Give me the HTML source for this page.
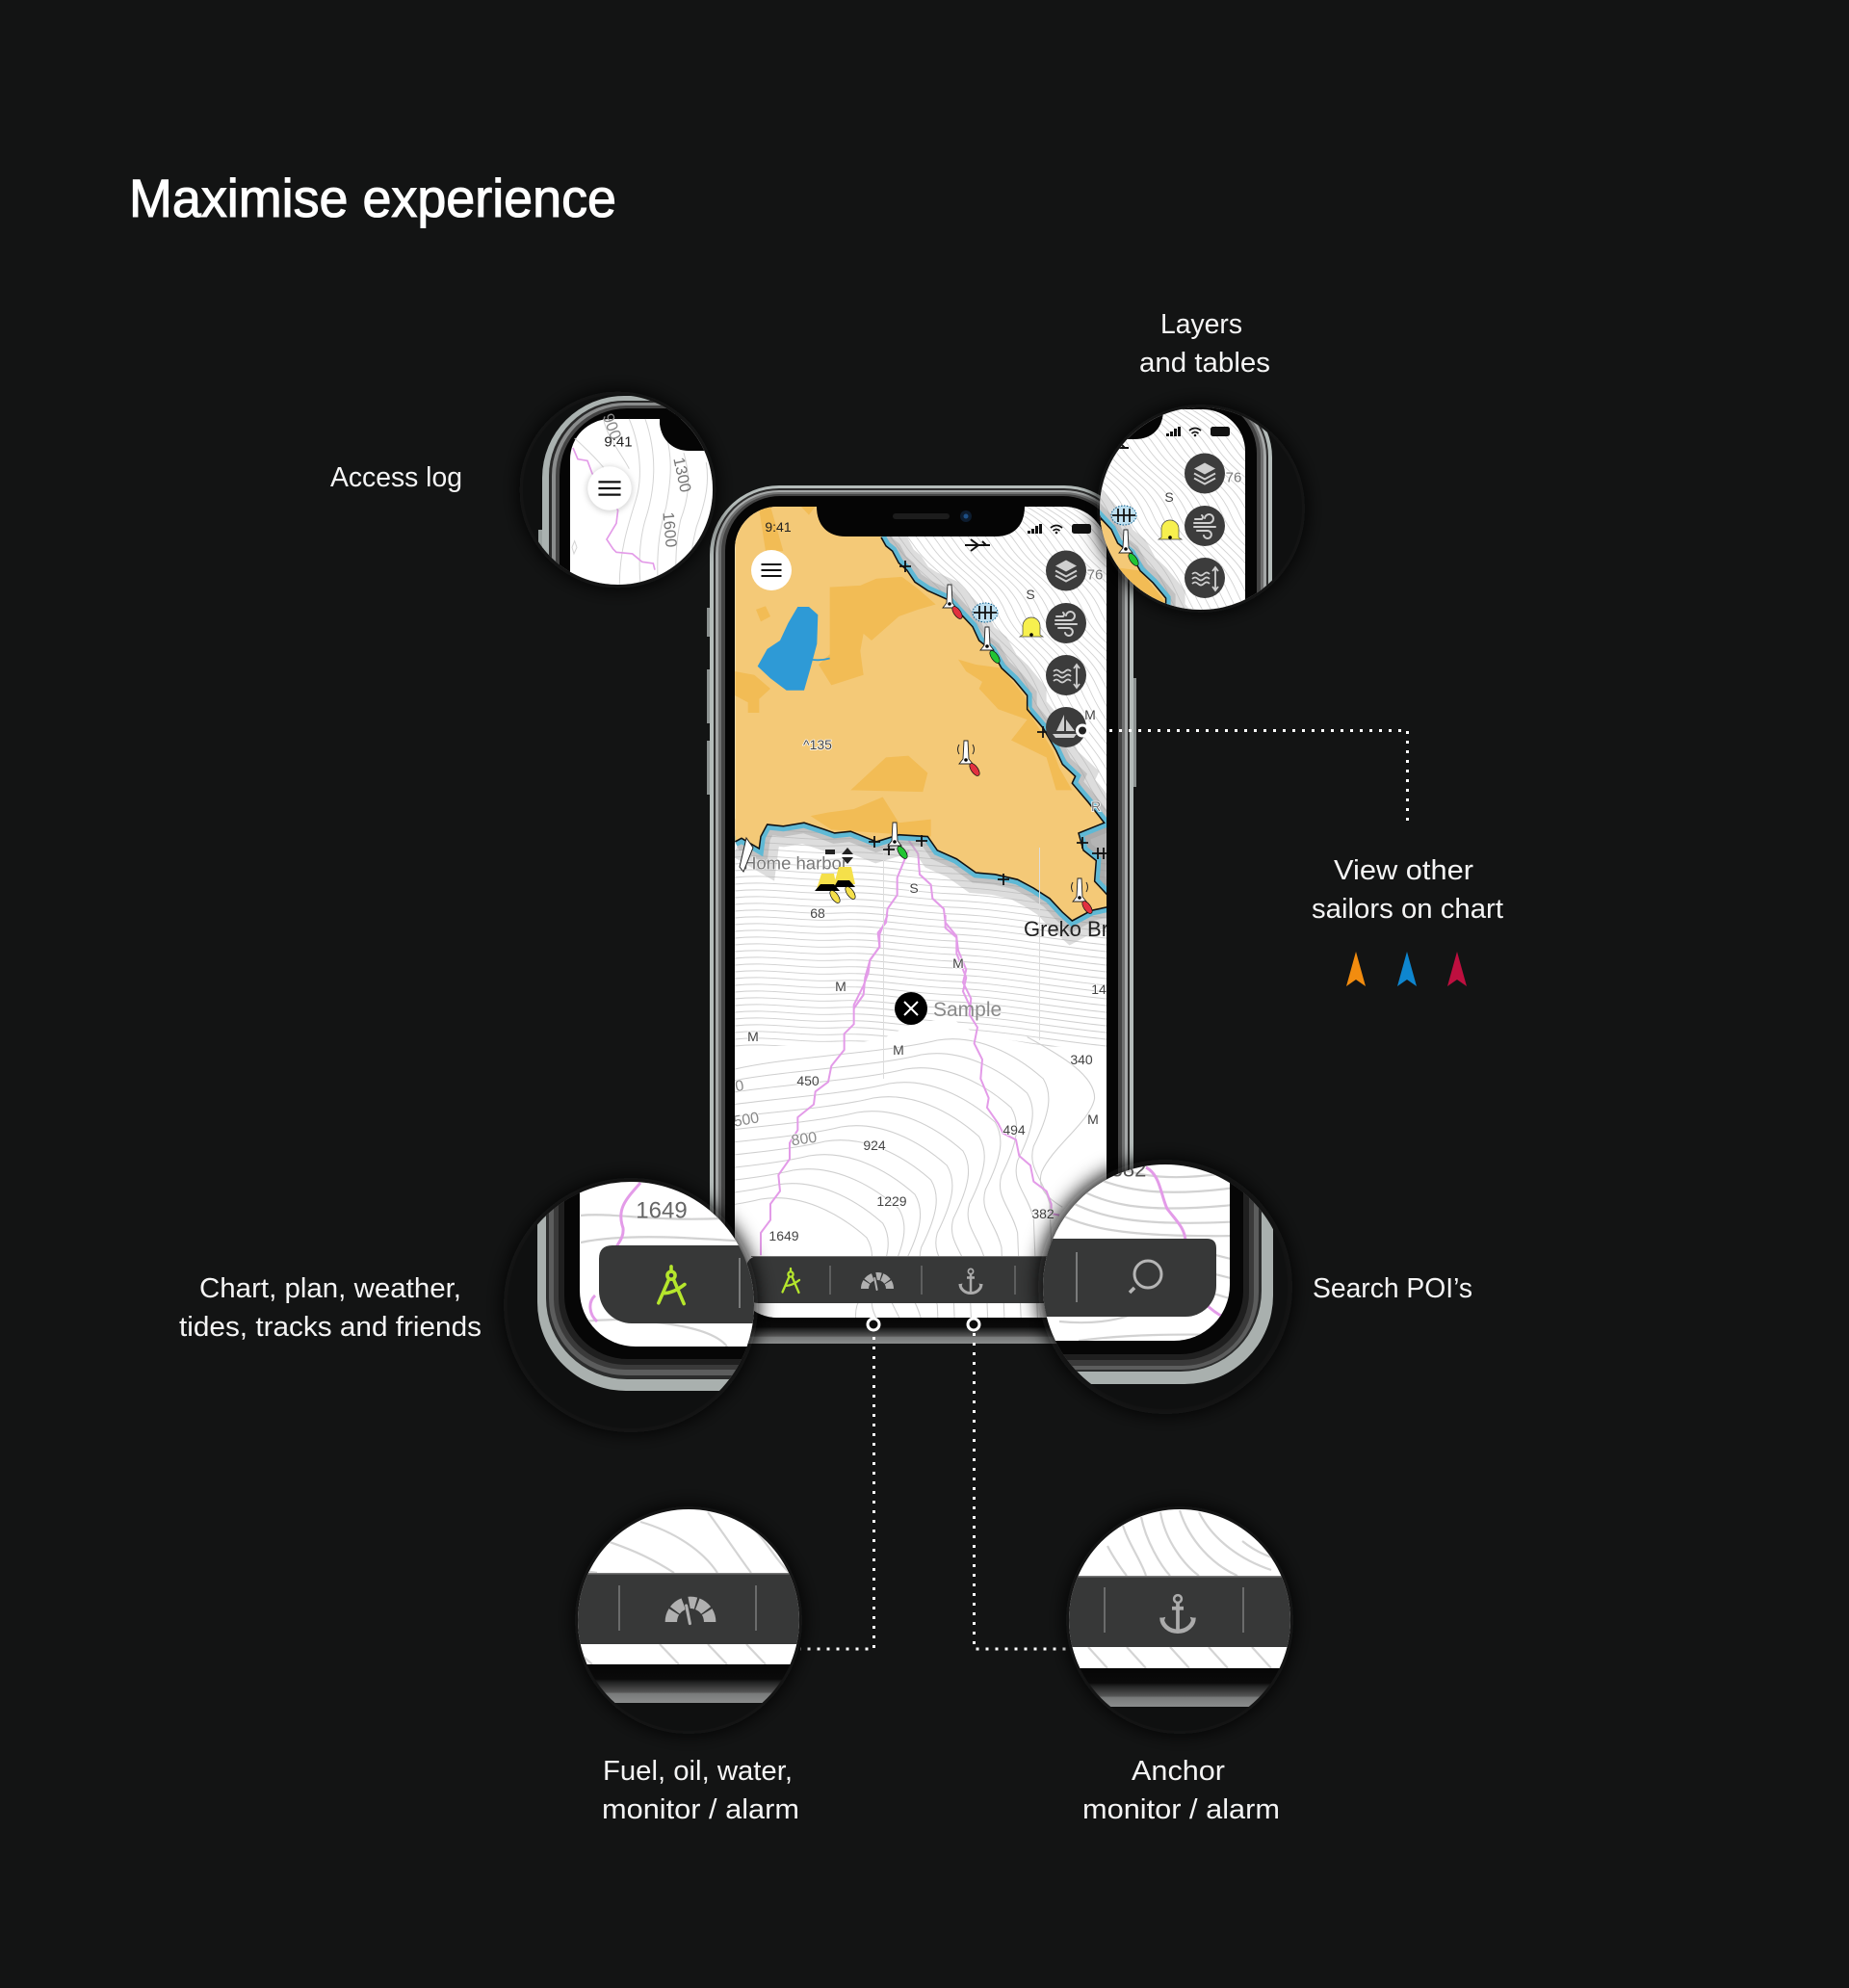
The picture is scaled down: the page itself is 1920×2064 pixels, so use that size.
<!DOCTYPE html>
<html><head><meta charset="utf-8"><title>Maximise experience</title>
<style>html,body{margin:0;padding:0;background:#131414}svg{display:block}
text{font-family:"Liberation Sans",sans-serif}
.l{font-size:29px;fill:#f5f5f5}
.m{font-size:14px;fill:#444;text-anchor:middle;dominant-baseline:central;paint-order:stroke;stroke:#fff;stroke-width:1.500px}
</style></head><body>
<svg xmlns="http://www.w3.org/2000/svg" width="1920" height="2064" viewBox="0 0 1920 2064">
<defs>
<filter id="bl" x="-30%" y="-30%" width="160%" height="160%"><feGaussianBlur stdDeviation="10"/></filter>
<filter id="sh" x="-50%" y="-50%" width="200%" height="200%"><feGaussianBlur stdDeviation="3"/></filter>
<clipPath id="scr"><rect x="763" y="526" width="386" height="842" rx="44"/></clipPath>
<clipPath id="s3"><rect x="602" y="900" width="700" height="498" rx="58"/></clipPath>
<clipPath id="s4"><rect x="577" y="900" width="700" height="492" rx="58"/></clipPath>
<clipPath id="c1"><circle cx="641.5" cy="508.5" r="98.5"/></clipPath>
<clipPath id="c2"><circle cx="1247" cy="528" r="105"/></clipPath>
<clipPath id="c3"><circle cx="655" cy="1355" r="128"/></clipPath>
<clipPath id="c4"><circle cx="1210" cy="1336" r="127"/></clipPath>
<clipPath id="c5"><circle cx="715" cy="1682" r="115"/></clipPath>
<clipPath id="c6"><circle cx="1225" cy="1682" r="115"/></clipPath>
<linearGradient id="btm" x1="0" y1="0" x2="0" y2="1"><stop offset="0" stop-color="#060606"/><stop offset=".38" stop-color="#0a0a0a"/><stop offset=".45" stop-color="#1d1e1e"/><stop offset=".72" stop-color="#555"/><stop offset=".76" stop-color="#787a7a"/><stop offset="1" stop-color="#8a8c8c"/></linearGradient>
<polyline id="coast" fill="none" points="585,190 600,215 620,230 640,265 665,285 690,320 730,345 790,370 830,410 870,450 890,490 930,520 960,570 1000,605 1040,650 1040,690 1090,745 1130,810 1150,850 1190,885 1180,905 1230,960 1280,1020 1200,1050 1215,1100 1255,1130 1250,1190 1290,1230 1290,1265 1240,1275 1180,1305 1150,1280 1110,1240 1060,1210 1010,1185 940,1170 880,1165 820,1125 760,1100 730,1060 640,1055 570,1075 490,1045 440,1050 410,1040 345,1020 280,1030 230,1025 210,1060 205,1095 150,1065 130,1075"/>
<path id="ne" fill="none" stroke="#d2d2d2" stroke-width=".9" d="M860 510 C890 530 910 535 930 565 S975 600 990 635 S1030 670 1050 715 S1090 770 1110 810 S1150 860 1190 900"/>
<g id="ne5"><use href="#ne"/><use href="#ne" x="9"/><use href="#ne" x="18"/><use href="#ne" x="27"/><use href="#ne" x="36"/></g>
<path id="h" fill="none" stroke="#cfcfcf" stroke-width=".9" d="M763 862 C800 858 830 866 870 864 S940 870 990 872 S1090 884 1149 890"/>
<g id="h5"><use href="#h"/><use href="#h" y="7"/><use href="#h" y="14"/><use href="#h" y="21"/><use href="#h" y="28"/></g>
<path id="lw" fill="none" stroke="#cfcfcf" stroke-width="3.200" d="M-900 660 L130 480 C300 440 600 430 760 390 C880 370 1000 430 1090 510 C1120 560 1110 620 1060 720 C1040 790 1090 820 1110 900 L1130 1400"/>
<g id="comp" fill="none" stroke="#B5E62C" stroke-width="2.300" stroke-linecap="round"><circle cx="0" cy="-7" r="2.600"/><path d="M0 -13V-10M-1.500 -4.500L-8.500 11.500M1.500 -4.500L8.500 12M-5.500 5C-1 5 4 3 9 -1"/></g>
<g id="gauge"><path d="M-13 0A13 13 0 0 1 13 0" fill="none" stroke="#b0b0b0" stroke-width="8" stroke-dasharray="7.200 1.200"/><path d="M0 1L-3.500 -17" stroke="#373838" stroke-width="3.500"/><path d="M-.4 1L-2.800 -11" stroke="#b0b0b0" stroke-width="2" stroke-linecap="round"/></g>
<g id="anch" fill="none" stroke="#ababab" stroke-width="2.200"><circle cx="0" cy="-10" r="2.600" stroke-width="1.700"/><path d="M0 -7.500V11M-4 -3.500H4" stroke-width="2.500"/><path d="M-11 3A11 9.500 0 0 0 11 3" stroke-width="3"/><path d="M-12.500 3.500L-8.500 2.500L-10 7ZM12.500 3.500L8.500 2.500L10 7Z" fill="#ababab" stroke="none"/></g>
<g id="ham"><path d="M-10.500 -6H10.500M-10.500 0H10.500M-10.500 6H10.500" stroke="#111" stroke-width="2"/></g>
<g id="lh"><path d="M-2 -12L2 -12L3 7L7 12L-7 12L-3 7Z" fill="#fff" stroke="#222" stroke-width=".9"/><circle cx="0" cy="8" r="1.800" fill="#000"/></g>
<ellipse id="dr" rx="3.500" ry="7.500" transform="rotate(-35)" stroke="#111" stroke-width=".7"/>
<g id="ic1" fill="#cfcfcf"><path d="M0 -11L11 -5L0 1L-11 -5Z"/><path d="M-11 0L0 6L11 0M-11 5L0 11L11 5" fill="none" stroke="#cfcfcf" stroke-width="2"/></g>
<g id="ic2" fill="none" stroke="#cfcfcf" stroke-width="2" stroke-linecap="round"><path d="M-11 -3H5A4.500 4.500 0 1 0 0 -8M-11 1H11M-10 -7H-3A2.500 2.500 0 0 0 -3 -11M-8 5H3A4 4 0 1 1 -1 10"/></g>
<g id="ic3" fill="none" stroke="#cfcfcf" stroke-width="1.800"><path d="M-13 -4q3 -3 6 0t6 0t6 0M-13 1q3 -3 6 0t6 0t6 0M-13 6q3 -3 6 0t6 0t6 0"/><path d="M11 -10V12M8 -7L11 -11L14 -7M8 9L11 13L14 9"/></g>
<g id="ic4" fill="#cfcfcf"><path d="M-2 -13L-2 4L-10 4Z"/><path d="M0 -8L9 4L0 4Z"/><path d="M-14 7H11L8 11H-11Z"/></g>
<g id="pl" stroke="#111" stroke-width="1.800"><path d="M-6 0H6M0 -6V6"/></g>
<g id="phone">
 <rect x="734" y="631" width="4" height="30" fill="#8b9190"/><rect x="734" y="695" width="4" height="56" fill="#8b9190"/><rect x="734" y="769" width="4" height="56" fill="#8b9190"/><rect x="1176" y="704" width="4" height="113" fill="#8b9190"/>
 <rect x="737" y="504" width="440" height="891" rx="72" fill="#b4bcba"/>
 <rect x="741" y="507" width="432" height="885" rx="68" fill="#2e2e2e"/>
 <rect x="743" y="509" width="428" height="881" rx="66" fill="#a5a8a8"/>
 <rect x="746" y="511" width="422" height="877" rx="63" fill="#6f7070"/>
 <rect x="749" y="513" width="416" height="873" rx="60" fill="#444"/>
 <rect x="753" y="515" width="408" height="868" rx="57" fill="#050505"/>
 <rect x="763" y="1367" width="386" height="28" fill="url(#btm)"/>
 <g clip-path="url(#scr)">
  <rect x="763" y="526" width="386" height="842" fill="#fff"/>
  <use href="#ne5"/><use href="#ne5" x="45"/><use href="#ne5" x="90"/><use href="#ne5" x="135"/><use href="#ne5" x="180"/><use href="#ne5" x="225"/><use href="#ne5" x="270"/>
  <use href="#h5"/><use href="#h5" y="35"/><use href="#h5" y="70"/><use href="#h5" y="105"/><use href="#h5" y="140"/><use href="#h5" y="175"/><use href="#h5" y="210"/>
  <g transform="translate(720 950) scale(.3333)">
   <polygon fill="#fff" points="130,410 470,405 590,385 680,340 800,320 880,370 1100,410 1290,410 1290,1300 130,1300"/>
   <use href="#lw"/><use href="#lw" x="-50" y="45"/><use href="#lw" x="-100" y="90"/><use href="#lw" x="-150" y="135"/><use href="#lw" x="-200" y="180"/><use href="#lw" x="-250" y="225"/><use href="#lw" x="-300" y="270"/><use href="#lw" x="-350" y="315"/><use href="#lw" x="-400" y="360"/><use href="#lw" x="-450" y="405"/><use href="#lw" x="-500" y="450"/><use href="#lw" x="-550" y="495"/>
   <path fill="none" stroke="#cfcfcf" stroke-width="3.200" d="M1040 380C1150 440 1250 500 1250 570C1240 640 1120 720 1085 800C1070 850 1100 880 1150 910"/>
   <polyline fill="none" stroke="#e39be8" stroke-width="6" stroke-linejoin="round" points="605,0 580,60 580,100 550,140 545,180 530,220 500,280 500,340 470,370 470,420 430,470 420,520 380,550 375,590 325,630 325,670 300,710 300,760 265,810 270,860 240,900 240,950 210,990 210,1060"/>
   <polyline fill="none" stroke="#e39be8" stroke-width="6" stroke-linejoin="round" points="785,0 785,40 820,70 825,110 850,170 840,210 865,260 860,310 885,350 875,400 900,450 895,510 920,570 915,600 950,650 965,680 1005,700 1015,750 1050,780 1060,830 1100,860 1115,900 1115,930 1140,935"/>
  </g>
  <g transform="translate(720 490) scale(.3333 .3571)">
   <polyline fill="none" stroke="#e39be8" stroke-width="6" points="670,1100 635,1180 635,1230 605,1270 600,1310 575,1340 580,1380 550,1420 535,1470 530,1520 500,1560"/>
   <polyline fill="none" stroke="#e39be8" stroke-width="6" points="670,1070 700,1110 705,1170 740,1200 745,1240 780,1270 785,1310 820,1350 820,1400 850,1470 840,1510 865,1560"/>
   <use href="#coast" stroke="#b4b4b4" stroke-width="120" opacity=".45"/>
   <use href="#coast" stroke="#8f8f8f" stroke-width="60" opacity=".35"/>
   <polygon fill="#9a9a9a" opacity=".6" points="1200,1040 1290,1030 1290,1230 1250,1190 1215,1100"/>
   <use href="#coast" stroke="#5fb9d5" stroke-width="30"/>
   <polygon fill="#F4C977" points="130,100 600,100 585,190 600,215 620,230 640,265 665,285 690,320 730,345 790,370 830,410 870,450 890,490 930,520 960,570 1000,605 1040,650 1040,690 1090,745 1130,810 1150,850 1190,885 1180,905 1230,960 1280,1020 1200,1050 1215,1100 1255,1130 1250,1190 1290,1230 1290,1265 1240,1275 1180,1305 1150,1280 1110,1240 1060,1210 1010,1185 940,1170 880,1165 820,1125 760,1100 730,1060 640,1055 570,1075 490,1045 440,1050 410,1040 345,1020 280,1030 230,1025 210,1060 205,1095 150,1065 130,1075"/>
   <g fill="#F2BC55">
    <polygon points="425,335 520,330 570,310 650,305 700,340 755,385 700,400 640,420 555,490 530,470 520,520 530,590 430,620 390,560 425,530"/>
    <polygon points="130,580 190,590 240,630 205,660 205,700 170,700 170,670 130,650"/>
    <polygon points="195,400 225,390 240,420 210,435"/>
    <polygon points="205,110 240,100 265,180 280,230 225,230"/>
    <polygon points="335,100 380,100 360,125"/>
    <polygon points="490,925 600,830 670,825 730,875 715,930"/>
    <polygon points="365,1000 420,990 500,980 590,945 640,1020 740,1010 740,1060 430,1040"/>
    <polygon points="825,545 880,560 960,570 1030,650 1060,720 1120,810 1140,860 1180,925 1130,925 1100,830 990,780 1040,720 950,690 890,630 900,610 850,580"/>
   </g>
   <polygon fill="#2E9AD6" points="325,392 360,392 388,415 385,500 365,570 345,635 290,635 240,600 200,565 230,515 270,490 295,440"/>
   <path d="M365 545Q395 550 425 542" fill="none" stroke="#2E9AD6" stroke-width="5"/>
   <use href="#coast" stroke="#111" stroke-width="4.500"/>
  </g>
  <rect x="917" y="880" width="1" height="240" fill="#ddd"/><rect x="1079" y="880" width="1" height="200" fill="#ddd"/>
  <text class="m" x="849" y="773">^135</text>
  <text class="m" x="826" y="896" style="font-size:18.500px;fill:#777;stroke-width:1px">Home harbor</text>
  <text class="m" x="849" y="948">68</text><text class="m" x="949" y="922">S</text>
  <text class="m" x="873" y="1024">M</text><text class="m" x="995" y="1000">M</text>
  <text x="1063" y="972" style="font-size:22px;fill:#222">Greko Br</text>
  <text class="m" x="1141" y="1027">14</text><text class="m" x="782" y="1076">M</text><text class="m" x="839" y="1122">450</text>
  <text class="m" x="768" y="1128" transform="rotate(-10 768 1128)" style="fill:#888;font-size:16px">0</text>
  <text class="m" x="775" y="1163" transform="rotate(-10 775 1163)" style="fill:#888;font-size:16px">500</text>
  <text class="m" x="835" y="1183" transform="rotate(-8 835 1183)" style="fill:#888;font-size:16px">800</text>
  <text class="m" x="908" y="1189">924</text><text class="m" x="926" y="1247">1229</text><text class="m" x="814" y="1283">1649</text>
  <text class="m" x="933" y="1090">M</text><text class="m" x="1123" y="1100">340</text><text class="m" x="1135" y="1162">M</text><text class="m" x="1053" y="1173">494</text><text class="m" x="1083" y="1260">382</text>
  <text class="m" x="1137" y="597" style="font-size:15px;fill:#777">76</text><text class="m" x="1070" y="617">S</text><text class="m" x="1132" y="742">M</text><text class="m" x="1138" y="837" style="fill:#777">R</text>
  <circle cx="946" cy="1047" r="17" fill="#000"/><path d="M939 1040L953 1054M953 1040L939 1054" stroke="#fff" stroke-width="2"/>
  <text x="969" y="1055" style="font-size:21px;fill:#8a8a8a">Sample</text>
  <use href="#pl" x="940" y="588"/><use href="#pl" x="1083" y="760"/><use href="#pl" x="1124" y="875"/><use href="#pl" x="1140" y="886"/><use href="#pl" x="1146" y="886"/><use href="#pl" x="908" y="874"/><use href="#pl" x="923" y="882"/><use href="#pl" x="957" y="873"/><use href="#pl" x="1042" y="913"/>
  <path d="M1002 566H1028M1008 560L1016 566L1008 572M1020 562L1024 566" stroke="#111" stroke-width="2" fill="none"/>
  <use href="#lh" x="986" y="619"/><use href="#dr" fill="#e2313f" transform="translate(994 636)"/>
  <use href="#lh" x="1025" y="663"/><use href="#dr" fill="#22c433" transform="translate(1033 682)"/>
  <use href="#lh" x="1003" y="781"/><use href="#dr" fill="#e2313f" transform="translate(1012 799)"/>
  <path d="M996 773q-3 5 0 10M1010 773q3 5 0 10" fill="none" stroke="#222"/>
  <use href="#lh" x="929" y="866"/><use href="#dr" fill="#22c433" transform="translate(937 885)"/>
  <use href="#lh" x="1121" y="924"/><use href="#dr" fill="#e2313f" transform="translate(1129 942)"/>
  <path d="M1114 916q-3 5 0 10M1128 916q3 5 0 10" fill="none" stroke="#222"/>
  <path d="M853 907L866 907L869 923L848 923ZM871 900L884 900L888 918L866 918Z" fill="#f5e04a"/>
  <path d="M846 925H872L866 918H852ZM866 921H888L882 914H870Z" fill="#000"/>
  <rect x="857" y="882" width="10" height="5" fill="#222"/><path d="M874 887L880 880L886 887ZM874 890L880 897L886 890Z" fill="#222"/>
  <use href="#dr" fill="#f5e04a" transform="translate(867 931)"/><use href="#dr" fill="#f5e04a" transform="translate(883 927)"/>
  <path d="M1062 659V650A9 9 0 0 1 1080 650V659L1083 661H1059Z" fill="#f7f04e" stroke="#444" stroke-width=".7"/><circle cx="1071" cy="659" r="1.800" fill="#000"/>
  <ellipse cx="1023" cy="636" rx="13" ry="10" fill="#bfe0f0" stroke="#0b5c8a" stroke-dasharray="1.500 1.500"/>
  <path d="M1011 636H1035M1017 629V643M1023 629V643M1029 629V643" stroke="#111" stroke-width="1.800"/>
  <path d="M768 900L775 870L782 880L772 905Z" fill="#fff" stroke="#222"/>
 </g>
 <rect x="775" y="1304" width="340" height="49" rx="12" fill="#373838"/><rect x="780" y="1304" width="335" height="1" fill="#777"/>
 <path d="M862 1314V1344M957 1314V1344M1054 1314V1344" stroke="#6a6b6b" stroke-width="1.500"/>
 <use href="#comp" x="821" y="1330"/><use href="#gauge" x="911" y="1338"/><use href="#anch" x="1008" y="1330"/>
 <path d="M848 526C848 546 860 557 878 557H1034C1052 557 1064 546 1064 526Z" fill="#050505"/>
 <rect x="927" y="533" width="59" height="6" rx="3" fill="#1c1c1c"/><circle cx="1003" cy="536" r="6" fill="#0d1c2e"/><circle cx="1003" cy="536" r="2.500" fill="#1d4f86"/>
 <text x="808" y="547" text-anchor="middle" dominant-baseline="central" style="font-size:14px;fill:#222">9:41</text>
 <path d="M1067 551h3v3h-3zM1071 549h3v5h-3zM1075 546h3v8h-3zM1079 544h3v10h-3z" fill="#111"/>
 <path d="M1091 548q6 -5 12 0M1093.500 551q3.500 -3 7 0" fill="none" stroke="#111" stroke-width="1.800"/><circle cx="1097" cy="553" r="1.300" fill="#111"/>
 <rect x="1113" y="544" width="20" height="10" rx="2.500" fill="#111"/>
 <circle cx="801" cy="592" r="21" fill="#fff"/><use href="#ham" x="801" y="592"/>
 <g>
  <circle cx="1107" cy="592.500" r="21" fill="#3c3c3c"/><use href="#ic1" x="1107" y="592.500"/>
  <circle cx="1107" cy="647" r="21" fill="#3c3c3c"/><use href="#ic2" x="1107" y="647"/>
  <circle cx="1107" cy="701" r="21" fill="#3c3c3c"/><use href="#ic3" x="1107" y="701"/>
  <circle cx="1107" cy="755" r="21" fill="#3c3c3c"/><use href="#ic4" x="1107" y="755"/>
 </g>
</g>
</defs>

<rect width="1920" height="2064" fill="#131414"/>
<text x="134" y="225" textLength="506" lengthAdjust="spacingAndGlyphs" style="font-size:56px;font-weight:400;fill:#fff;stroke:#fff;stroke-width:1.100px">Maximise experience</text>

<use href="#phone"/>

<path d="M1132 758.500H1461.500V855" fill="none" stroke="#fff" stroke-width="3" stroke-dasharray="3 7"/>
<circle cx="1124" cy="758.500" r="5.500" fill="#222" stroke="#fff" stroke-width="3"/>

<!-- Access log -->
<circle cx="641.500" cy="508.500" r="102" fill="#0f1010" filter="url(#bl)"/>
<g clip-path="url(#c1)">
 <circle cx="641.500" cy="508.500" r="99" fill="#0f1010"/>
 <rect x="559" y="550" width="5" height="36" fill="#9aa2a0"/>
 <rect x="563" y="411" width="400" height="400" rx="85" fill="#aab2b0"/>
 <rect x="570" y="416" width="400" height="400" rx="78" fill="#2a2a2a"/>
 <rect x="573" y="418" width="400" height="400" rx="76" fill="#8a8c8c"/>
 <rect x="577" y="421" width="400" height="400" rx="73" fill="#444"/>
 <rect x="581" y="424" width="400" height="400" rx="70" fill="#050505"/>
 <rect x="592" y="435" width="300" height="300" rx="42" fill="#fff"/>
 <g transform="translate(520 400) scale(.3333)" fill="none" stroke="#d4d4d4" stroke-width="3">
  <path d="M400 105C440 200 440 300 420 360C395 440 370 520 370 620M450 105C490 220 480 330 450 420C430 490 430 560 435 620M505 120C540 220 530 300 515 380C490 460 485 540 490 620M570 210C590 280 590 340 560 420C545 490 545 540 545 620M640 240C650 300 640 360 610 440C595 500 590 540 590 620M320 105C330 160 380 220 400 260M230 165C280 210 330 260 350 300M230 485L237 505L228 525L222 505Z"/>
  <polyline stroke="#e39be8" stroke-width="5" points="225,195 240,230 270,235 285,275 310,300 365,390 360,430 330,480 350,510 360,520 410,525 440,550 475,555 480,575"/>
 </g>
 <text x="708" y="493" transform="rotate(78 708 493)" text-anchor="middle" dominant-baseline="central" style="font-size:16.500px;fill:#777">1300</text>
 <text x="695" y="550" transform="rotate(85 695 550)" text-anchor="middle" dominant-baseline="central" style="font-size:16.500px;fill:#777">1600</text>
 <text x="635" y="443" transform="rotate(70 635 443)" text-anchor="middle" dominant-baseline="central" style="font-size:16.500px;fill:#888">900</text>
 <path d="M685 430V440C687 458 700 468 715 468H760V430Z" fill="#050505"/>
 <text x="642" y="459" text-anchor="middle" dominant-baseline="central" style="font-size:15px;fill:#222">9:41</text>
 <circle cx="633" cy="508" r="24" fill="#999" filter="url(#sh)" opacity=".4"/>
 <circle cx="633" cy="507" r="22.700" fill="#fff"/><g transform="translate(633 507) scale(1.100)"><use href="#ham"/></g>
</g>

<!-- Layers -->
<circle cx="1247" cy="528" r="108" fill="#0f1010" filter="url(#bl)"/>
<g clip-path="url(#c2)">
 <circle cx="1247" cy="528" r="105" fill="#0f1010"/>
 <use href="#phone" x="144" y="-101"/>
</g>

<!-- Chart -->
<circle cx="655" cy="1355" r="132" fill="#0f1010" filter="url(#bl)"/>
<g clip-path="url(#c3)">
 <circle cx="655" cy="1355" r="128" fill="#0f1010"/>
 <rect x="558" y="900" width="700" height="544" rx="92" fill="#a9b0ae"/>
 <rect x="567" y="900" width="700" height="532" rx="84" fill="#2c2d2d"/>
 <rect x="570" y="900" width="700" height="528" rx="80" fill="#5c5d5d"/>
 <rect x="575" y="900" width="700" height="522" rx="74" fill="#3a3a3a"/>
 <rect x="580" y="900" width="700" height="517" rx="70" fill="#1f1f1f"/>
 <rect x="586" y="900" width="700" height="511" rx="66" fill="#060606"/>
 <rect x="602" y="900" width="700" height="498" rx="58" fill="#fff"/>
 <g clip-path="url(#s3)">
 <g fill="none" stroke="#d2d2d2" stroke-width="2.200">
  <path d="M603 1262C640 1258 690 1272 790 1262M603 1290C650 1280 720 1285 790 1290M603 1372C630 1370 650 1368 690 1374M690 1374C720 1378 745 1385 755 1398"/>
  <path d="M665 1228C650 1245 640 1255 647 1275C648 1285 642 1290 640 1295M618 1345C610 1352 612 1365 620 1372" stroke="#e39be8" stroke-width="3"/>
 </g></g>
 <text x="687" y="1257" text-anchor="middle" dominant-baseline="central" style="font-size:24px;fill:#666">1649</text>
 <path d="M920 1293H636Q622 1293 622 1307V1340A34 34 0 0 0 656 1374H920Z" fill="#373838"/>
 <rect x="767" y="1306" width="2" height="52" fill="#7a7b7b"/>
 <g transform="translate(697 1335) scale(1.550)"><use href="#comp"/></g>
</g>

<!-- Search -->
<circle cx="1210" cy="1336" r="132" fill="#0f1010" filter="url(#bl)"/>
<g clip-path="url(#c4)">
 <circle cx="1210" cy="1336" r="127" fill="#0f1010"/>
 <rect x="622" y="900" width="700" height="537" rx="92" fill="#a9b0ae"/>
 <rect x="610" y="900" width="700" height="524" rx="84" fill="#2c2d2d"/>
 <rect x="607" y="900" width="700" height="522" rx="80" fill="#5c5d5d"/>
 <rect x="602" y="900" width="700" height="518" rx="74" fill="#3a3a3a"/>
 <rect x="597" y="900" width="700" height="512" rx="70" fill="#1f1f1f"/>
 <rect x="591" y="900" width="700" height="506" rx="66" fill="#060606"/>
 <rect x="577" y="900" width="700" height="492" rx="58" fill="#fff"/>
 <g clip-path="url(#s4)">
 <g fill="none" stroke="#d2d2d2" stroke-width="2.200">
  <path d="M1100 1222C1140 1250 1180 1262 1290 1250M1090 1235C1130 1262 1170 1275 1290 1268M1082 1250C1120 1275 1160 1285 1290 1283M1120 1215C1160 1235 1200 1245 1290 1232M1150 1208C1180 1222 1220 1228 1290 1215M1250 1300L1290 1310M1250 1320L1290 1330M1250 1340L1290 1352"/>
  <path d="M1100 1372C1130 1375 1155 1372 1175 1365M1120 1392C1170 1385 1230 1385 1280 1386"/>
  <path d="M1190 1212C1205 1220 1205 1240 1212 1255C1222 1268 1230 1275 1231 1288M1250 1352C1258 1360 1265 1365 1272 1368" stroke="#e39be8" stroke-width="3"/>
 </g></g>
 <text x="1172" y="1214" text-anchor="middle" dominant-baseline="central" style="font-size:22px;fill:#555">382</text>
 <path d="M900 1286H1253Q1263 1286 1263 1296V1335A32 32 0 0 1 1231 1367H900Z" fill="#373838"/>
 <rect x="1117" y="1300" width="2" height="52" fill="#7a7b7b"/>
 <circle cx="1192" cy="1323" r="14" fill="none" stroke="#b5b5b5" stroke-width="3"/>
 <path d="M1178 1337L1173 1342" stroke="#b5b5b5" stroke-width="3.500"/>
</g>

<!-- Nodes and lower connectors -->
<circle cx="907" cy="1375" r="6" fill="#0c0c0c" stroke="#fff" stroke-width="3"/>
<circle cx="1011" cy="1375" r="6" fill="#0c0c0c" stroke="#fff" stroke-width="3"/>
<path d="M907.500 1388V1712H831" fill="none" stroke="#fff" stroke-width="3" stroke-dasharray="3 7"/>
<path d="M1011.500 1384V1712H1110" fill="none" stroke="#fff" stroke-width="3" stroke-dasharray="3 7"/>

<!-- Fuel -->
<circle cx="715" cy="1682" r="118" fill="#0f1010" filter="url(#bl)"/>
<g clip-path="url(#c5)">
 <circle cx="715" cy="1682" r="115" fill="#0f1010"/>
 <rect x="590" y="1560" width="250" height="168" fill="#fff"/>
 <g fill="none" stroke="#d4d4d4" stroke-width="2.200">
  <path d="M630 1600C660 1610 680 1620 700 1633M665 1580C700 1590 730 1610 745 1633M735 1570C750 1590 770 1620 780 1633M785 1590C795 1600 810 1625 820 1633M600 1630L620 1633"/>
  <path d="M600 1715L615 1728M685 1707L705 1728M735 1707L755 1728M775 1707L795 1728"/>
 </g>
 <rect x="590" y="1633" width="250" height="74" fill="#373838"/><rect x="590" y="1633" width="250" height="1.500" fill="#777"/>
 <rect x="642" y="1646" width="2" height="47" fill="#6a6b6b"/><rect x="784" y="1646" width="2" height="47" fill="#6a6b6b"/>
 <g transform="translate(717 1684) scale(1.550)"><use href="#gauge"/></g>
 <rect x="590" y="1728" width="250" height="40" fill="url(#btm)"/>
</g>

<!-- Anchor -->
<circle cx="1225" cy="1682" r="118" fill="#0f1010" filter="url(#bl)"/>
<g clip-path="url(#c6)">
 <circle cx="1225" cy="1682" r="115" fill="#0f1010"/>
 <rect x="1100" y="1560" width="250" height="172" fill="#fff"/>
 <g fill="none" stroke="#d4d4d4" stroke-width="2.200">
  <path d="M1165 1580C1170 1600 1185 1620 1190 1636M1185 1575C1190 1600 1205 1625 1215 1636M1205 1570C1210 1600 1230 1625 1245 1636M1225 1568C1235 1600 1260 1625 1285 1636M1245 1570C1260 1600 1290 1620 1320 1630M1150 1605C1155 1615 1165 1630 1170 1636M1290 1600C1305 1612 1320 1618 1340 1622"/>
  <path d="M1130 1710L1150 1732M1170 1710L1190 1732M1215 1710L1235 1732M1255 1710L1275 1732M1300 1710L1320 1732"/>
 </g>
 <rect x="1100" y="1636" width="250" height="74" fill="#373838"/><rect x="1100" y="1636" width="250" height="1.500" fill="#777"/>
 <rect x="1146" y="1648" width="2" height="47" fill="#6a6b6b"/><rect x="1290" y="1648" width="2" height="47" fill="#6a6b6b"/>
 <g transform="translate(1223 1675) scale(1.500)"><use href="#anch"/></g>
 <rect x="1100" y="1732" width="250" height="40" fill="url(#btm)"/>
</g>

<!-- Labels -->
<text class="l" x="343" y="505" textLength="137" lengthAdjust="spacingAndGlyphs">Access log</text>
<text class="l" x="1205" y="346" textLength="85" lengthAdjust="spacingAndGlyphs">Layers</text>
<text class="l" x="1183" y="386" textLength="136" lengthAdjust="spacingAndGlyphs">and tables</text>
<text class="l" x="1385" y="913" textLength="145" lengthAdjust="spacingAndGlyphs">View other</text>
<text class="l" x="1362" y="953" textLength="199" lengthAdjust="spacingAndGlyphs">sailors on chart</text>
<text class="l" x="207" y="1347" textLength="272" lengthAdjust="spacingAndGlyphs">Chart, plan, weather,</text>
<text class="l" x="186" y="1387" textLength="314" lengthAdjust="spacingAndGlyphs">tides, tracks and friends</text>
<text class="l" x="1363" y="1347" textLength="166" lengthAdjust="spacingAndGlyphs">Search POI’s</text>
<text class="l" x="626" y="1848" textLength="197" lengthAdjust="spacingAndGlyphs">Fuel, oil, water,</text>
<text class="l" x="625" y="1888" textLength="205" lengthAdjust="spacingAndGlyphs">monitor / alarm</text>
<text class="l" x="1175" y="1848" textLength="97" lengthAdjust="spacingAndGlyphs">Anchor</text>
<text class="l" x="1124" y="1888" textLength="205" lengthAdjust="spacingAndGlyphs">monitor / alarm</text>

<path d="M1408 988L1418 1024L1408 1017L1398 1024Z" fill="#F28C0F"/>
<path d="M1461 988L1471 1024L1461 1017L1451 1024Z" fill="#0E86CF"/>
<path d="M1513 988L1523 1024L1513 1017L1503 1024Z" fill="#BE0F3F"/>
</svg>
</body></html>
